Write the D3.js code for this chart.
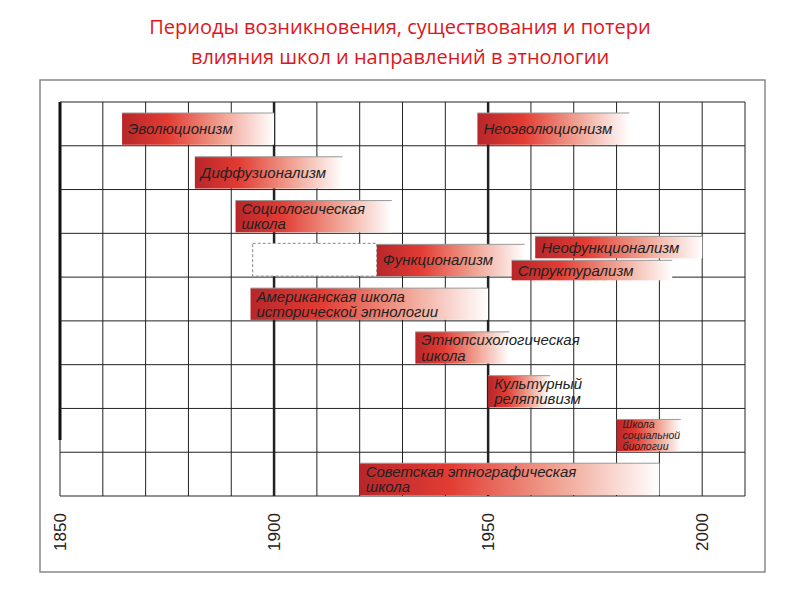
<!DOCTYPE html>
<html><head><meta charset="utf-8">
<script src="https://cdn.jsdelivr.net/npm/d3@7"></script>
<style>body{margin:0;background:#fff}</style>
</head><body>
<svg id="c" width="800" height="600"></svg>
<script>
// школы: начало, конец, строка, подрядок (смещение внутри строки)
const names = [["Эволюционизм"],["Неоэволюционизм"],["Диффузионализм"],["Социологическая","школа"],
  ["Функционализм"],["Неофункционализм"],["Структурализм"],["Американская школа","исторической этнологии"],
  ["Этнопсихологическая","школа"],["Культурный","релятивизм"],["Школа","социальной","биологии"],
  ["Советская этнографическая","школа"]]
const starts = [1864.5,1947.5,1881.5,1891,1924,1961,1955.5,1894.5,1933,1950,1980,1920]
const ends   = [1900,1983,1916,1927.5,1958.5,2000,1993,1950,1955,1964.5,1995,1990]
const rows   = [0,0,1,2,3,3,3,4,5,6,7,8]
const kinds  = ["full","full","full","full","full","top","bottom","full","full","full","full","full"]
const years  = [1850,1900,1950,2000]
const dashed = [1895,1924,3]

const svg = d3.select("#c")
svg.append("text").attr("x",400).attr("y",34).attr("text-anchor","middle").attr("fill","#e0161b")
  .style("font","20px 'Open Sans', sans-serif").text("Периоды возникновения, существования и потери")
svg.append("text").attr("x",400).attr("y",64).attr("text-anchor","middle").attr("fill","#e0161b")
  .style("font","20px 'Open Sans', sans-serif").text("влияния школ и направлений в этнологии")
svg.append("rect").attr("x",40).attr("y",80).attr("width",725).attr("height",492)
  .attr("fill","none").attr("stroke","#888").attr("stroke-width",1.5)

const x = d3.scaleLinear().domain([1850,2010]).range([60,745])
const y = d3.scaleLinear().domain([0,9]).range([102,496])

const g = svg.append("g")
d3.range(1850,2011,10).forEach(v=>{
  const thick = v==1900||v==1950
  g.append("line").attr("x1",x(v)).attr("x2",x(v)).attr("y1",y(0)).attr("y2",y(9))
    .attr("stroke","#222").attr("stroke-width",thick?2.5:1)
})
g.append("line").attr("x1",x(1850)).attr("x2",x(1850)).attr("y1",y(0)).attr("y2",440)
  .attr("stroke","#111").attr("stroke-width",3)
d3.range(0,10).forEach(r=>{
  g.append("line").attr("x1",x(1850)).attr("x2",x(2010)).attr("y1",y(r)).attr("y2",y(r))
    .attr("stroke","#222").attr("stroke-width",1)
})

g.append("rect").attr("x",x(dashed[0])).attr("y",y(dashed[2])+10).attr("width",x(dashed[1])-x(dashed[0]))
  .attr("height",y(1)-y(0)-11).attr("fill","#fff").attr("stroke","#888").attr("stroke-dasharray","3,2")

const grad = svg.append("defs").append("linearGradient").attr("id","gr")
grad.append("stop").attr("offset","0%").attr("stop-color","#b8262a")
grad.append("stop").attr("offset","30%").attr("stop-color","#e23c33")
grad.append("stop").attr("offset","65%").attr("stop-color","#f0a090")
grad.append("stop").attr("offset","100%").attr("stop-color","#fff")

const rh = y(1)-y(0)
names.forEach((n,i)=>{
  let top = y(rows[i])+11, h = rh-12
  if(kinds[i]=="top"){ top = y(rows[i])+3; h = 22 }
  if(kinds[i]=="bottom"){ top = y(rows[i])+27; h = 20 }
  const x0 = x(starts[i]), w = x(ends[i])-x0
  g.append("rect").attr("x",x0).attr("y",top).attr("width",w).attr("height",h).attr("fill","url(#gr)")
  g.append("line").attr("x1",x0).attr("x2",x0+w).attr("y1",top).attr("y2",top).attr("stroke","#999").attr("stroke-width",1)
  const fs = n.length>2 ? 10.5 : 15
  const t = g.append("text").attr("x",x0+6).attr("fill","#222")
    .style("font","italic "+fs+"px 'Liberation Sans', Arial, sans-serif")
  const lh = fs*1.02
  const y0 = top + h/2 - (n.length-1)*lh/2 + fs*0.35
  n.forEach((s,k)=>t.append("tspan").attr("x",x0+6).attr("y",y0+k*lh).text(s))
})

years.forEach(v=>{
  svg.append("text").attr("transform","translate("+(x(v)+6)+",532) rotate(-90)")
    .attr("text-anchor","middle").attr("fill","#222")
    .style("font","17px 'Liberation Sans', Arial, sans-serif").text(v)
})
</script>
</body></html>
